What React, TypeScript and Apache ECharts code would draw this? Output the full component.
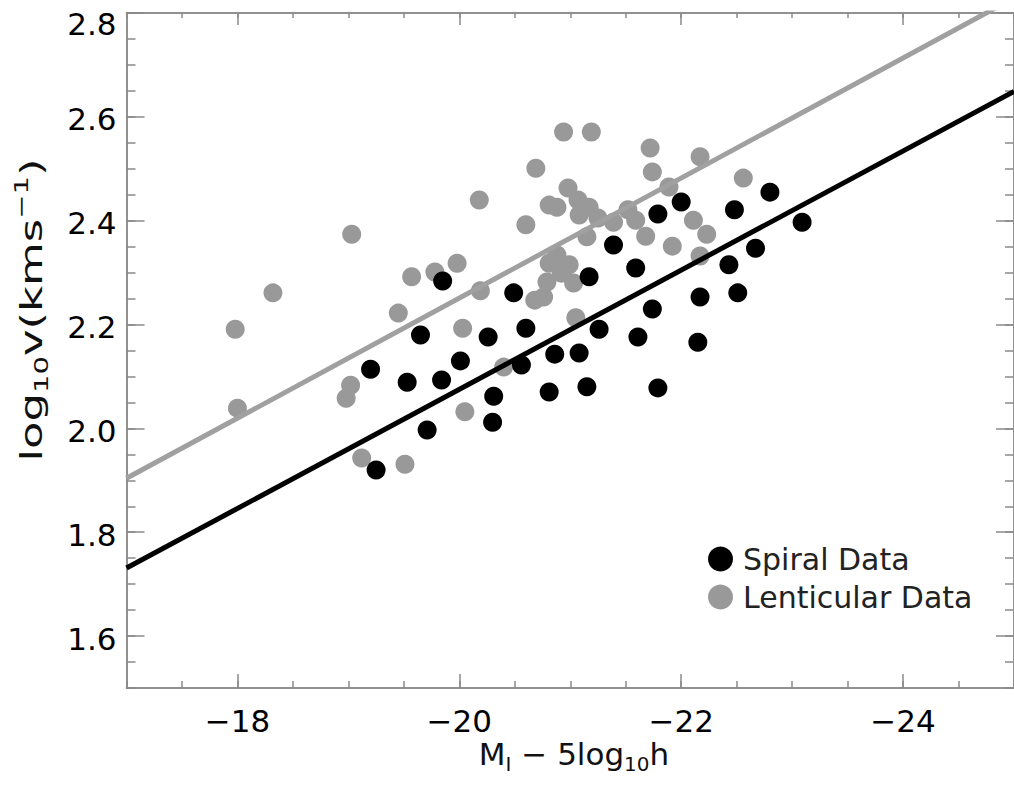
import React, { useEffect, useRef } from "react";
import * as echarts from "echarts";

// ---- data ----
const spiralX = [-19.2, -19.25, -19.53, -19.65, -19.85, -19.84, -19.71, -20.01, -20.26, -20.31, -20.3, -20.49, -20.6, -20.56, -20.81, -20.86, -21.08, -21.15, -21.17, -21.26, -21.39, -21.59, -21.61, -21.74, -21.79, -21.79, -22.0, -22.17, -22.15, -22.43, -22.48, -22.51, -22.67, -22.8, -23.09];
const spiralY = [2.114, 1.92, 2.089, 2.18, 2.284, 2.093, 1.997, 2.13, 2.176, 2.062, 2.012, 2.261, 2.193, 2.122, 2.07, 2.143, 2.145, 2.08, 2.292, 2.191, 2.353, 2.309, 2.176, 2.23, 2.413, 2.078, 2.436, 2.253, 2.166, 2.315, 2.421, 2.261, 2.347, 2.455, 2.397];

const lentX = [-17.98, -18.32, -19.03, -18.0, -19.02, -18.98, -19.12, -19.45, -19.51, -19.57, -19.78, -19.98, -20.03, -20.05, -20.18, -20.19, -20.4, -20.6, -20.69, -20.76, -20.68, -20.79, -20.81, -20.81, -20.88, -20.88, -20.92, -20.94, -20.98, -20.99, -21.03, -21.05, -21.07, -21.08, -21.15, -21.17, -21.19, -21.25, -21.39, -21.52, -21.59, -21.68, -21.72, -21.74, -21.89, -21.92, -22.11, -22.17, -22.17, -22.23, -22.56];
const lentY = [2.191, 2.261, 2.374, 2.039, 2.083, 2.058, 1.943, 2.222, 1.931, 2.292, 2.301, 2.318, 2.193, 2.032, 2.44, 2.265, 2.118, 2.392, 2.501, 2.253, 2.247, 2.282, 2.43, 2.318, 2.426, 2.334, 2.299, 2.571, 2.463, 2.315, 2.28, 2.213, 2.44, 2.411, 2.369, 2.426, 2.571, 2.405, 2.397, 2.421, 2.401, 2.37, 2.54, 2.494, 2.465, 2.351, 2.401, 2.523, 2.332, 2.374, 2.482];

const spiralFitX = [-17, -25];
const spiralFitY = [1.731, 2.649];
const lentFitX = [-17, -25];
const lentFitY = [1.904, 2.829];

const seriesNames = ["Spiral Data", "Lenticular Data"];
const xMajorTicks = [-18, -20, -22, -24];
const yMajorTicks = [1.6, 1.8, 2.0, 2.2, 2.4, 2.6, 2.8];
const X_MIN = -25;
const X_MAX = -17;
const Y_MIN = 1.5;
const Y_MAX = 2.8;

const zip = (xs: number[], ys: number[]) => xs.map((x, i) => [x, ys[i]]);

const AXIS_COLOR = "#8a8a8a";
const FONT = "DejaVu Sans";

export default function App() {
  const ref = useRef<HTMLDivElement>(null);

  useEffect(() => {
    if (!ref.current) return;
    const chart = echarts.init(ref.current, undefined, { renderer: "svg" });

    const xBase = (position: "bottom" | "top", major: boolean, len: number, labels: boolean) => ({
      type: "value",
      position,
      min: X_MIN,
      max: X_MAX,
      inverse: true,
      ...(major ? {} : { interval: 0.5 }),
      axisLine: { show: true, onZero: false, lineStyle: { color: AXIS_COLOR, width: 1.5 } },
      axisTick: {
        show: true,
        inside: true,
        length: len,
        lineStyle: { color: AXIS_COLOR, width: 1.5 },
        ...(major ? { customValues: xMajorTicks } : {}),
      },
      axisLabel: labels
        ? {
            show: true,
            customValues: xMajorTicks,
            margin: 17,
            fontSize: 31,
            fontFamily: FONT,
            color: "#000",
            formatter: (v: number) => (v < 0 ? "\u2212" : "") + Math.abs(v),
          }
        : { show: false },
      splitLine: { show: false },
    });

    const yBase = (position: "left" | "right", major: boolean, len: number, labels: boolean) => ({
      type: "value",
      position,
      min: Y_MIN,
      max: Y_MAX,
      ...(major ? {} : { interval: 0.05 }),
      axisLine: { show: true, onZero: false, lineStyle: { color: AXIS_COLOR, width: 1.5 } },
      axisTick: {
        show: true,
        inside: true,
        length: len,
        lineStyle: { color: AXIS_COLOR, width: 1.5 },
        ...(major ? { customValues: yMajorTicks } : {}),
      },
      axisLabel: labels
        ? {
            show: true,
            customValues: yMajorTicks,
            margin: 10,
            fontSize: 31,
            fontFamily: FONT,
            color: "#000",
            formatter: (v: number) =>
              Math.abs(v - Y_MAX) < 1e-6 ? "{top|" + v.toFixed(1) + "}" : "{n|" + v.toFixed(1) + "}",
            rich: {
              top: { fontSize: 31, fontFamily: FONT, color: "#000", padding: [21, 0, 0, 0] },
              n: { fontSize: 31, fontFamily: FONT, color: "#000", padding: [5, 0, 0, 0] },
            },
          }
        : { show: false },
      splitLine: { show: false },
    });

    const richBase = {
      n: { fontSize: 31, lineHeight: 40, fontFamily: FONT, fill: "#111", color: "#111" },
      sub: { fontSize: 20, lineHeight: 20, verticalAlign: "bottom", fontFamily: FONT, fill: "#111", color: "#111" },
      sup: { fontSize: 20, lineHeight: 20, verticalAlign: "top", fontFamily: FONT, fill: "#111", color: "#111" },
    };

    chart.setOption({
      animation: false,
      backgroundColor: "#ffffff",
      grid: { left: 126.5, right: -7.3, top: 13, bottom: 97, containLabel: false },
      xAxis: [
        xBase("bottom", true, 14, true),
        xBase("bottom", false, 7, false),
        xBase("top", true, 12, false),
        xBase("top", false, 5, false),
      ],
      yAxis: [
        yBase("left", true, 18, true),
        yBase("left", false, 9, false),
        yBase("right", true, 18, false),
        yBase("right", false, 9, false),
      ],
      legend: {
        data: seriesNames,
        orient: "vertical",
        left: 703,
        top: 539,
        icon: "circle",
        itemWidth: 25,
        itemHeight: 25,
        itemGap: 8,
        textStyle: { fontSize: 30, fontFamily: FONT, color: "#222", lineHeight: 30, padding: [0, 0, 0, 5] },
      },
      graphic: [
        {
          type: "text",
          x: 574,
          y: 754,
          style: {
            text: "{n|M}{sub|I}{n| \u2212 5log}{sub|10}{n|h}",
            rich: richBase,
            fontSize: 31,
            fontFamily: FONT,
            fill: "#111",
            align: "center",
            verticalAlign: "middle",
          },
        },
        {
          type: "text",
          x: 31,
          y: 310,
          rotation: Math.PI / 2,
          scaleX: 1.45,
          style: {
            text: "{n|log}{sub|10}{n|v(kms}{sup|\u22121}{n|)}",
            rich: richBase,
            fontSize: 31,
            fontFamily: FONT,
            fill: "#111",
            align: "center",
            verticalAlign: "middle",
          },
        },
      ],
      series: [
        {
          name: "Lenticular fit",
          type: "line",
          data: zip(lentFitX, lentFitY),
          symbol: "none",
          clip: true,
          lineStyle: { color: "#a0a0a0", width: 5 },
          xAxisIndex: 0,
          yAxisIndex: 0,
        },
        {
          name: "Spiral fit",
          type: "line",
          data: zip(spiralFitX, spiralFitY),
          symbol: "none",
          clip: true,
          lineStyle: { color: "#000000", width: 5 },
          xAxisIndex: 0,
          yAxisIndex: 0,
        },
        {
          name: seriesNames[1],
          type: "scatter",
          data: zip(lentX, lentY),
          symbol: "circle",
          symbolSize: 19,
          itemStyle: { color: "#999999", opacity: 1 },
          xAxisIndex: 0,
          yAxisIndex: 0,
        },
        {
          name: seriesNames[0],
          type: "scatter",
          data: zip(spiralX, spiralY),
          symbol: "circle",
          symbolSize: 19,
          itemStyle: { color: "#000000", opacity: 1 },
          xAxisIndex: 0,
          yAxisIndex: 0,
        },
      ],
    });

    return () => chart.dispose();
  }, []);

  return (
    <div
      ref={ref}
      style={{ position: "absolute", left: 0, top: 0, width: 1014, height: 785, background: "#fff" }}
    />
  );
}
